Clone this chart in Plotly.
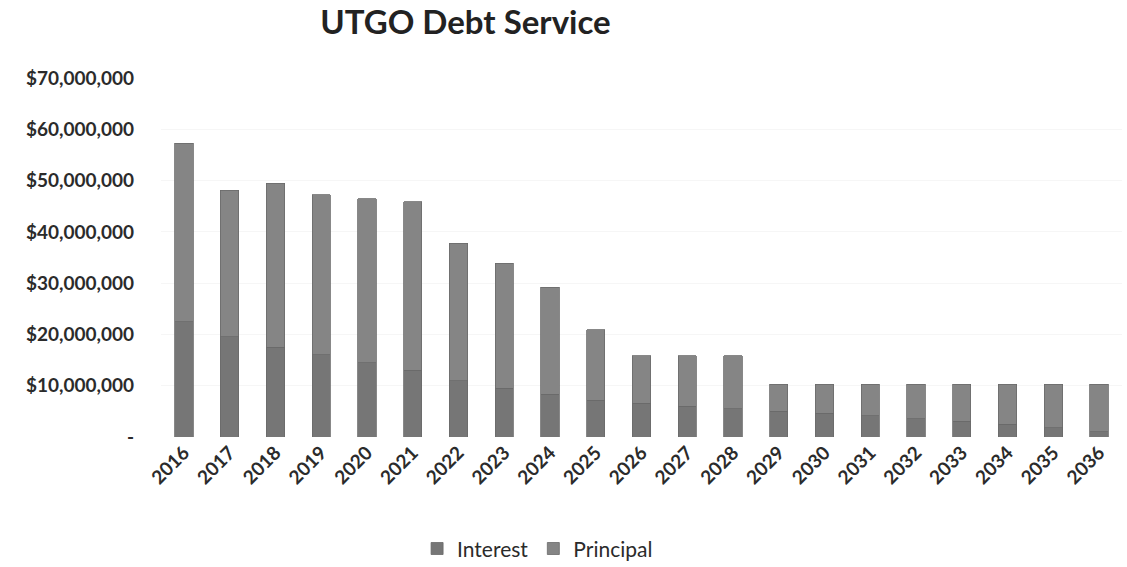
import plotly.graph_objects as go

# UTGO debt service by fiscal year, split into interest and principal (USD)
years = [str(y) for y in range(2016, 2037)]
interest = [22.5e6, 19.5e6, 17.5e6, 16.0e6, 14.5e6, 13.0e6, 11.0e6, 9.5e6, 8.3e6, 7.2e6,
            6.6e6, 6.0e6, 5.5e6, 5.0e6, 4.6e6, 4.1e6, 3.6e6, 3.1e6, 2.5e6, 1.8e6, 1.0e6]
principal = [34.8e6, 28.6e6, 32.0e6, 31.2e6, 32.0e6, 32.9e6, 26.8e6, 24.4e6, 20.9e6, 13.7e6,
             9.2e6, 9.8e6, 10.3e6, 5.3e6, 5.7e6, 6.2e6, 6.7e6, 7.2e6, 7.8e6, 8.5e6, 9.3e6]

tick_vals = [0, 10e6, 20e6, 30e6, 40e6, 50e6, 60e6, 70e6]
tick_text = ["-", "$10,000,000", "$20,000,000", "$30,000,000", "$40,000,000",
             "$50,000,000", "$60,000,000", "$70,000,000"]

FONT = "Lato"
TEXT = "#2b2b2b"

fig = go.Figure()
fig.add_trace(go.Bar(x=years, y=interest, name="Interest",
                     marker=dict(color="#767676", line=dict(width=0.8, color="#6a6a6a"))))
fig.add_trace(go.Bar(x=years, y=principal, name="Principal",
                     marker=dict(color="#858585", line=dict(width=0.8, color="#6a6a6a"))))

fig.update_layout(
    barmode="stack",
    bargap=0.6,
    width=1127, height=567,
    margin=dict(l=161, r=5, t=78, b=130),
    paper_bgcolor="white", plot_bgcolor="white",
    font=dict(family=FONT, color=TEXT),
    title=dict(text="<b>UTGO Debt Service</b>", x=0.413, xanchor="center",
               y=0.98, yanchor="top", font=dict(size=33, color="#222222", family=FONT)),
    legend=dict(orientation="h", x=0.477, xref="container", xanchor="center",
                y=0.032, yref="container", yanchor="middle",
                font=dict(size=21, color=TEXT, family=FONT), traceorder="normal",
                itemwidth=30),
    showlegend=True,
)
fig.update_xaxes(tickangle=-45, tickfont=dict(size=19, color=TEXT, family=FONT),
                 showline=False, showgrid=False, ticks="", automargin=False,
                 tickprefix="<b>", ticksuffix="</b>")
fig.update_yaxes(range=[0, 70e6], tickvals=tick_vals, ticktext=[f"<b>{t}</b>" for t in tick_text],
                 tickfont=dict(size=19, color=TEXT, family=FONT), showgrid=True, automargin=False,
                 gridcolor="#f6f6f6", zeroline=False, showline=False, ticklabelstandoff=26)

fig.write_html("out.html")
